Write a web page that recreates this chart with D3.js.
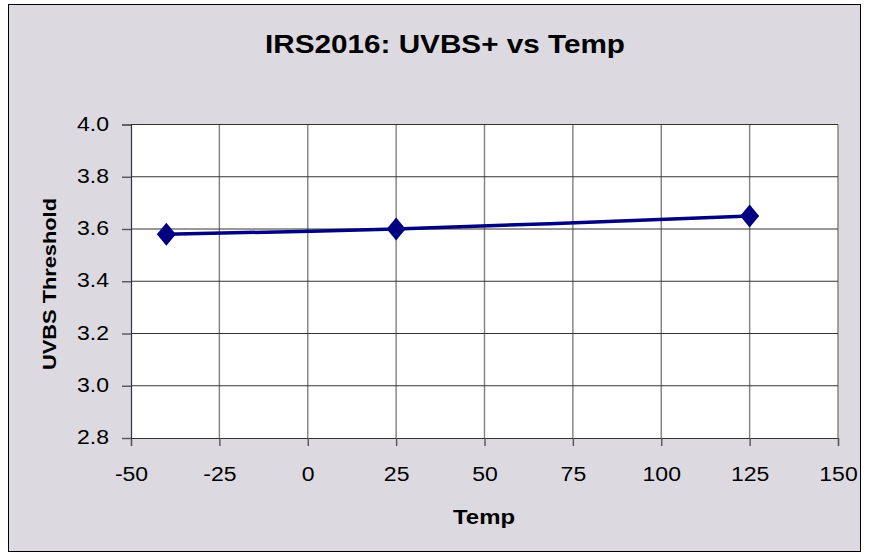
<!DOCTYPE html>
<html>
<head>
<meta charset="utf-8">
<script src="https://cdn.jsdelivr.net/npm/d3@7"></script>
<style>
  body { margin: 0; background: #fff; }
  text { font-family: "Liberation Sans", Arial, sans-serif; }
</style>
</head>
<body>
<script>
const temps = [-40, 25, 125]
const uvbs = [3.58, 3.60, 3.65]
const xTicks = [-50, -25, 0, 25, 50, 75, 100, 125, 150]
const yTicks = [2.8, 3.0, 3.2, 3.4, 3.6, 3.8, 4.0]

const W = 869, H = 560
const svg = d3.select("body").append("svg").attr("width", W).attr("height", H)

// outer chart box
svg.append("rect").attr("x", 8.5).attr("y", 4.5).attr("width", 852).attr("height", 547)
  .attr("fill", "#dcdae0").attr("stroke", "#000").attr("stroke-width", 1)

const pL = 131, pR = 838, pT = 124.5, pB = 438
const x = d3.scaleLinear().domain([-50, 150]).range([pL, pR])
const y = d3.scaleLinear().domain([2.8, 4.0]).range([pB, pT])

svg.append("rect").attr("x", pL).attr("y", pT).attr("width", pR - pL).attr("height", pB - pT)
  .attr("fill", "#fff")

// grid
svg.append("g").selectAll("line").data(xTicks.slice(1)).enter().append("line")
  .attr("x1", d => x(d)).attr("x2", d => x(d)).attr("y1", pT).attr("y2", pB)
  .attr("stroke", "#808080").attr("stroke-width", 1.4)
svg.append("g").selectAll("line").data(yTicks.slice(1)).enter().append("line")
  .attr("x1", pL).attr("x2", pR).attr("y1", d => y(d)).attr("y2", d => y(d))
  .attr("stroke", "#333").attr("stroke-width", 1)

// axes
const xAxis = svg.append("g").attr("transform", `translate(0,${pB})`)
  .call(d3.axisBottom(x).tickValues(xTicks).tickSize(8).tickPadding(21).tickFormat(d => String(d)))
const yAxis = svg.append("g").attr("transform", `translate(${pL},0)`)
  .call(d3.axisLeft(y).tickValues(yTicks).tickSize(9).tickPadding(13).tickFormat(d3.format(".1f")))
;[xAxis, yAxis].forEach(g => {
  g.select(".domain").attr("stroke", "#333").attr("stroke-width", 1.2)
  g.selectAll(".tick line").attr("stroke", "#555").attr("stroke-width", 1.4)
  g.selectAll("text").attr("font-size", 20).attr("fill", "#000")
    .attr("font-family", "Liberation Sans, Arial, sans-serif")
    .each(function () {
      // reference text is a bit wider than plain Arial
      const len = this.getComputedTextLength()
      d3.select(this).attr("textLength", len * 1.15).attr("lengthAdjust", "spacingAndGlyphs")
    })
})
yAxis.selectAll("text").attr("dy", "0.28em")

// series
const diamond = {
  draw(ctx, size) {
    const w = 9.5, h = 11.5
    ctx.moveTo(0, -h); ctx.lineTo(w, 0); ctx.lineTo(0, h); ctx.lineTo(-w, 0); ctx.closePath()
  }
}
const pts = temps.map((t, i) => [t, uvbs[i]])
svg.append("path").datum(pts)
  .attr("d", d3.line().x(d => x(d[0])).y(d => y(d[1])).curve(d3.curveCatmullRom))
  .attr("fill", "none").attr("stroke", "#000080").attr("stroke-width", 3.5)
svg.append("g").selectAll("path").data(pts).enter().append("path")
  .attr("transform", d => `translate(${x(d[0])},${y(d[1])})`)
  .attr("d", d3.symbol(diamond, 100))
  .attr("fill", "#000080")

// titles
svg.append("text").attr("x", 445).attr("y", 53).attr("text-anchor", "middle")
  .attr("font-size", 25).attr("font-weight", "bold")
  .attr("textLength", 360).attr("lengthAdjust", "spacingAndGlyphs")
  .text("IRS2016: UVBS+ vs Temp")
svg.append("text").attr("x", 484).attr("y", 524).attr("text-anchor", "middle")
  .attr("font-size", 20).attr("font-weight", "bold")
  .attr("textLength", 62).attr("lengthAdjust", "spacingAndGlyphs")
  .text("Temp")
svg.append("text").attr("transform", `translate(56,284) rotate(-90)`)
  .attr("text-anchor", "middle").attr("font-size", 19).attr("font-weight", "bold")
  .attr("textLength", 172).attr("lengthAdjust", "spacingAndGlyphs")
  .text("UVBS Threshold")
</script>
</body>
</html>
